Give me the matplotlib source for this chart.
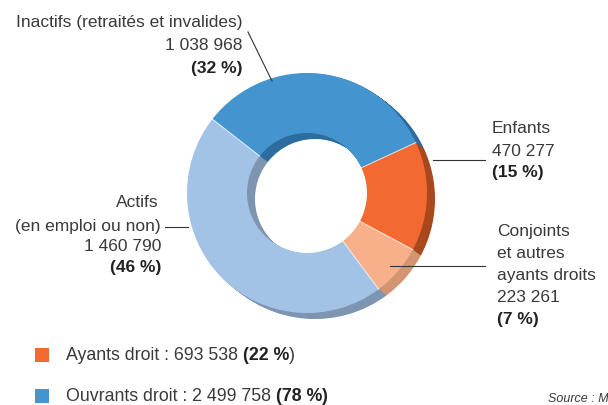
import matplotlib
matplotlib.use("Agg")
import matplotlib.pyplot as plt
from matplotlib.patches import Wedge, Rectangle
import numpy as np

# ---- data ----
categories = ["Inactifs (retraités et invalides)", "Enfants",
              "Conjoints et autres ayants droits", "Actifs (en emploi ou non)"]
values = [1038968, 470277, 223261, 1460790]
value_labels = ["1 038 968", "470 277", "223 261", "1 460 790"]
pct_labels = ["(32 %)", "(15 %)", "(7 %)", "(46 %)"]
top_colors = ["#4394CF", "#F26A31", "#F8B08A", "#A3C3E6"]
side_colors = ["#2C6C9E", "#A9481D", "#D39472", "#7E95B2"]

legend_labels = ["Ayants droit : ", "Ouvrants droit : "]
legend_values = ["693 538", "2 499 758"]
legend_pcts = ["22 %", "78 %"]
legend_colors = ["#F26A31", "#4394CF"]

plt.rcParams['font.family'] = ['Liberation Sans', 'DejaVu Sans']
TXT = "#3a3a3a"
BOLD = "#222222"

fig = plt.figure(figsize=(6.08, 4.06), dpi=100)
ax = fig.add_axes([0, 0, 1, 1])
ax.set_xlim(0, 608)
ax.set_ylim(406, 0)
ax.set_aspect('equal')
ax.axis('off')

cx, cy = 307, 194
R, r = 120, 60
dx, dy = 8, 6
start = 142.0

total = float(sum(values))
angles = []
a = start
for v in values:
    span = 360.0 * v / total
    angles.append((a, a - span))
    a -= span

# side / extrusion
n = 12
for k in range(n, 0, -1):
    t = k / n
    for (a1, a2), c in zip(angles, side_colors):
        w = Wedge((cx + dx * t, cy + dy * t), R, -a1, -a2, width=R - r,
                  facecolor=c, edgecolor='none', lw=0)
        ax.add_patch(w)

# top face
for (a1, a2), c in zip(angles, top_colors):
    w = Wedge((cx, cy), R, -a1, -a2, width=R - r, facecolor=c,
              edgecolor='none', lw=0)
    ax.add_patch(w)
for (a1, a2) in angles:
    th = np.deg2rad(a1)
    ax.plot([cx + r * np.cos(th), cx + R * np.cos(th)],
            [cy - r * np.sin(th), cy - R * np.sin(th)],
            color='white', lw=0.7, alpha=0.8)

fs = 12.5

# Inactifs label
ax.text(242, 22, categories[0], ha='right', va='center', fontsize=fs, color=TXT)
ax.text(242, 46, value_labels[0], ha='right', va='center', fontsize=fs, color=TXT)
ax.text(242, 68, pct_labels[0], ha='right', va='center', fontsize=fs, color=BOLD, fontweight='bold')
ax.plot([248, 272], [33, 82], color='#333333', lw=0.8)

# Enfants
ax.text(492, 129, categories[1], ha='left', va='center', fontsize=fs, color=TXT)
ax.text(492, 152, value_labels[1], ha='left', va='center', fontsize=fs, color=TXT)
ax.text(492, 173, pct_labels[1], ha='left', va='center', fontsize=fs, color=BOLD, fontweight='bold')
ax.plot([433, 485], [161, 161], color='#333333', lw=0.8)

# Conjoints
for i, line in enumerate(["Conjoints", "et autres", "ayants droits"]):
    ax.text(497, 232 + i * 21.7, line, ha='left', va='center', fontsize=fs, color=TXT)
ax.text(497, 298, value_labels[2], ha='left', va='center', fontsize=fs, color=TXT)
ax.text(497, 320, pct_labels[2], ha='left', va='center', fontsize=fs, color=BOLD, fontweight='bold')
ax.plot([390, 485], [267, 267], color='#333333', lw=0.8)

# Actifs
ax.text(159, 203, "Actifs", ha='right', va='center', fontsize=fs, color=TXT)
ax.text(161, 227, "(en emploi ou non)", ha='right', va='center', fontsize=fs, color=TXT)
ax.text(161, 247, value_labels[3], ha='right', va='center', fontsize=fs, color=TXT)
ax.text(161, 268, pct_labels[3], ha='right', va='center', fontsize=fs, color=BOLD, fontweight='bold')
ax.plot([165, 188], [228, 228], color='#333333', lw=0.8)

# legend
lfs = 12.8
for i in range(2):
    y = 356 + i * 41
    ax.add_patch(Rectangle((35, y - 7), 14, 14, facecolor=legend_colors[i], edgecolor='none'))
    t1 = ax.text(66, y, legend_labels[i] + legend_values[i] + " ", ha='left', va='center',
                 fontsize=lfs, color=TXT)
    t2 = ax.annotate("(" + legend_pcts[i], xy=(1, 0.5), xycoords=t1, ha='left', va='center',
                     fontsize=lfs, color=BOLD, fontweight='bold')
    if i == 0:
        ax.annotate(")", xy=(1, 0.5), xycoords=t2, ha='left', va='center',
                    fontsize=lfs, color=TXT)
    else:
        ax.annotate(")", xy=(1, 0.5), xycoords=t2, ha='left', va='center',
                    fontsize=lfs, color=BOLD, fontweight='bold')

ax.text(548, 399, "Source : M", ha='left', va='center', fontsize=9, color=TXT, style='italic')

fig.savefig("out.png", dpi=100)
